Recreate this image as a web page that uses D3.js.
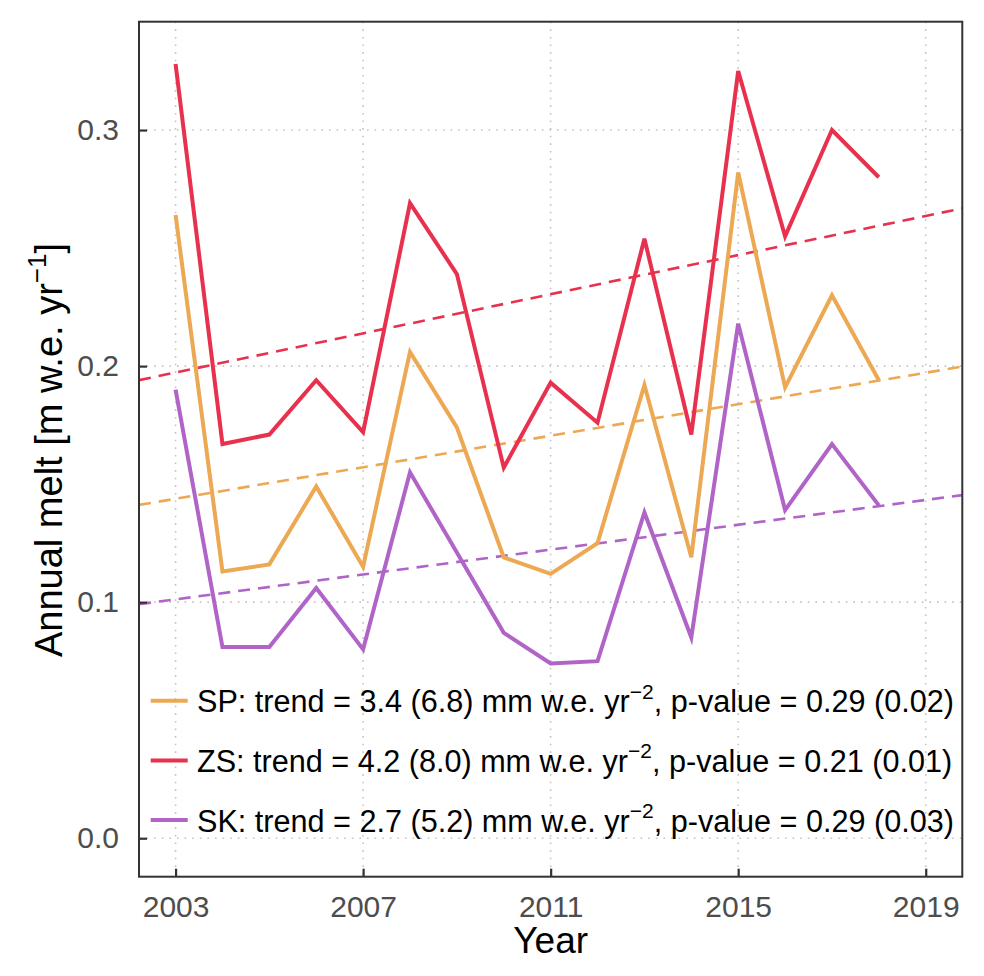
<!DOCTYPE html>
<html>
<head>
<meta charset="utf-8">
<script src="https://cdn.jsdelivr.net/npm/d3@7"></script>
<style>
  body { margin: 0; background: #fff; }
  svg { display: block; font-family: "Liberation Sans", Arial, Helvetica, sans-serif; }
</style>
</head>
<body>
<svg width="984" height="976"></svg>
<script>
"use strict";

// annual melt per site, m w.e. per year
var years = [2003, 2004, 2005, 2006, 2007, 2008, 2009, 2010, 2011, 2012, 2013, 2014, 2015, 2016, 2017, 2018];
var meltSP = [0.264, 0.113, 0.116, 0.149, 0.115, 0.206, 0.174, 0.119, 0.112, 0.125, 0.192, 0.119, 0.282, 0.191, 0.230, 0.194];
var meltZS = [0.328, 0.167, 0.171, 0.194, 0.172, 0.269, 0.239, 0.157, 0.193, 0.176, 0.254, 0.171, 0.325, 0.255, 0.300, 0.280];
var meltSK = [0.190, 0.081, 0.081, 0.106, 0.080, 0.155, 0.121, 0.087, 0.074, 0.075, 0.138, 0.085, 0.218, 0.139, 0.167, 0.141];

// linear trend, value at 2003 and at 2019
var trendYears = [2003, 2019];
var trendSP = [0.1438, 0.1972];
var trendZS = [0.1973, 0.2636];
var trendSK = [0.1012, 0.1433];

var siteNames = ['SP', 'ZS', 'SK'];
var siteColors = ['#ECA853', '#E8314F', '#B064C7'];
var trendText = ['3.4 (6.8)', '4.2 (8.0)', '2.7 (5.2)'];
var pText = ['0.29 (0.02)', '0.21 (0.01)', '0.29 (0.03)'];

var xTicks = [2003, 2007, 2011, 2015, 2019];
var yTicks = [0.0, 0.1, 0.2, 0.3];

var pL = 139, pR = 962.3, pT = 21.7, pB = 876.7;

var x = d3.scaleLinear().domain([2002.22, 2019.78]).range([pL, pR]);
var y = d3.scaleLinear().domain([-0.0163, 0.3459]).range([pB, pT]);

var svg = d3.select("svg");

// gridlines
var grid = svg.append("g")
  .attr('stroke', '#c4c4c4')
  .attr('stroke-width', 1.6)
  .attr('stroke-dasharray', '1.6,6')
  .attr('fill', 'none');
grid.selectAll("line.v")
  .data(xTicks)
  .enter()
  .append("line")
  .attr('x1', d => x(d)).attr('x2', d => x(d))
  .attr('y1', pT).attr('y2', pB);
grid.selectAll("line.h")
  .data(yTicks)
  .enter()
  .append("line")
  .attr('x1', pL).attr('x2', pR)
  .attr('y1', d => y(d)).attr('y2', d => y(d));

var sites = [
  { melt: meltSP, trend: trendSP },
  { melt: meltZS, trend: trendZS },
  { melt: meltSK, trend: trendSK }
];

svg.append("clipPath").attr('id', 'panel')
  .append("rect")
  .attr('x', pL).attr('y', pT)
  .attr('width', pR - pL).attr('height', pB - pT);

// trend lines, extended across the panel
var dom = x.domain();
function trendAt(d, yr) {
  var s = (d.trend[1] - d.trend[0]) / (trendYears[1] - trendYears[0]);
  return d.trend[0] + s * (yr - trendYears[0]);
}
svg.append("g").attr('clip-path', 'url(#panel)')
  .selectAll("line")
  .data(sites)
  .enter()
  .append("line")
  .attr('x1', x(dom[0]))
  .attr('x2', x(dom[1]))
  .attr('y1', d => y(trendAt(d, dom[0])))
  .attr('y2', d => y(trendAt(d, dom[1])))
  .attr('stroke', (d, i) => siteColors[i])
  .attr('stroke-width', 2.6)
  .attr('stroke-dasharray', '12,8');

var line = d3.line()
  .x((d, i) => x(years[i]))
  .y(d => y(d));

svg.append("g")
  .selectAll("path")
  .data(sites)
  .enter()
  .append("path")
  .attr('d', d => line(d.melt))
  .attr('fill', 'none')
  .attr('stroke', (d, i) => siteColors[i])
  .attr('stroke-width', 4)
  .attr('stroke-linejoin', 'miter');

// legend
var legend = svg.append("g");
var rows = legend.selectAll("g")
  .data(siteNames)
  .enter()
  .append("g")
  .attr('transform', (d, i) => 'translate(0,' + (700.7 + i * 59.7) + ')');
rows.append("line")
  .attr('x1', 150.7).attr('x2', 187.7)
  .attr('stroke', (d, i) => siteColors[i])
  .attr('stroke-width', 4);
var lt = rows.append("text")
  .attr('x', 197)
  .attr('y', 11.5)
  .attr('font-size', 30.6)
  .attr('fill', '#000');
lt.append("tspan").text((d, i) => d + ': trend = ' + trendText[i] + ' mm w.e. yr');
lt.append("tspan").attr('font-size', 21).attr('dy', -13.5).text('\u22122');
lt.append("tspan").attr('dy', 13.5).text((d, i) => ', p-value = ' + pText[i]);

// panel border
svg.append("rect")
  .attr('x', pL).attr('y', pT)
  .attr('width', pR - pL).attr('height', pB - pT)
  .attr('fill', 'none')
  .attr('stroke', '#333')
  .attr('stroke-width', 2);

// inward ticks
var xAxis = d3.axisBottom(x).tickValues(xTicks).tickFormat(d3.format('d')).tickSizeInner(-8).tickSizeOuter(0).tickPadding(19);
var gx = svg.append("g").attr('transform', 'translate(0,' + pB + ')').call(xAxis);
gx.select(".domain").remove();
gx.selectAll(".tick line").attr('stroke', '#333').attr('stroke-width', 2.2);
gx.selectAll(".tick text").attr('font-size', 30).attr('fill', '#4d4d4d');
gx.attr('font-family', null);

var yAxis = d3.axisLeft(y).tickValues(yTicks).tickFormat(d3.format('.1f')).tickSizeInner(-8).tickSizeOuter(0).tickPadding(20);
var gy = svg.append("g").attr('transform', 'translate(' + pL + ',0)').call(yAxis);
gy.select(".domain").remove();
gy.selectAll(".tick line").attr('stroke', '#333').attr('stroke-width', 2.2);
gy.selectAll(".tick text").attr('font-size', 30).attr('fill', '#4d4d4d');
gy.attr('font-family', null);

// axis titles
svg.append("text")
  .attr('x', (pL + pR) / 2)
  .attr('y', 953)
  .attr('text-anchor', 'middle')
  .attr('font-size', 37)
  .attr('fill', '#000')
  .text('Year');

var yt = svg.append("text")
  .attr('transform', 'translate(62,450) rotate(-90)')
  .attr('text-anchor', 'middle')
  .attr('font-size', 38)
  .attr('fill', '#000');
yt.append("tspan").text('Annual melt [m w.e. yr');
yt.append("tspan").attr('font-size', 26).attr('dy', -16).text('\u22121');
yt.append("tspan").attr('dy', 16).text(']');
</script>
</body>
</html>
